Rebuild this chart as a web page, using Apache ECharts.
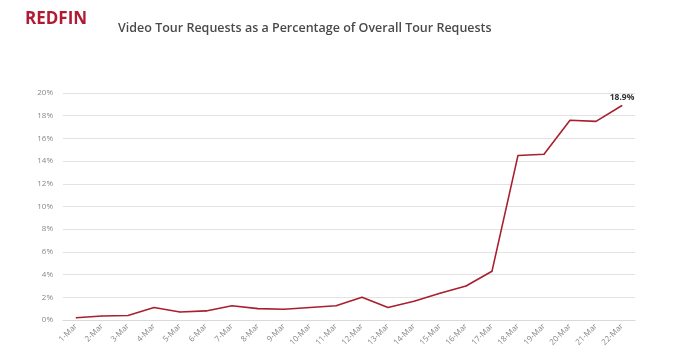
<!DOCTYPE html>
<html><head><meta charset="utf-8">
<script src="https://cdn.jsdelivr.net/npm/echarts@6/dist/echarts.min.js"></script>
<style>html,body{margin:0;padding:0;background:#fff}#c{width:679px;height:359px}</style>
</head><body><div id="c"></div>
<script>
var categories = ["1-Mar","2-Mar","3-Mar","4-Mar","5-Mar","6-Mar","7-Mar","8-Mar","9-Mar","10-Mar","11-Mar","12-Mar","13-Mar","14-Mar","15-Mar","16-Mar","17-Mar","18-Mar","19-Mar","20-Mar","21-Mar","22-Mar"];
var videoShare = [0.2,0.35,0.4,1.1,0.7,0.8,1.25,1.0,0.95,1.1,1.25,2.0,1.1,1.65,2.35,3.0,4.3,14.5,14.6,17.6,17.5,18.9];
var seriesData = videoShare.map(function(v,i){
  if(i===videoShare.length-1){
    return {value:v,label:{show:true,position:'top',distance:3,formatter:'{c}%',color:'#333',fontSize:8.5,fontWeight:'bold',fontFamily:'"Open Sans", sans-serif'}};
  }
  return v;
});
var chart = echarts.init(document.getElementById('c'));
chart.setOption({
  backgroundColor:'#fff',
  animation:false,
  graphic:[
    {type:'text',left:25,top:11,style:{text:'REDFIN',fill:'#b01a33',font:'bold 17px "Open Sans", sans-serif'}},
    {type:'text',left:118,top:22,style:{text:'Video Tour Requests as a Percentage of Overall Tour Requests',fill:'#4a4a4a',font:'600 12.5px "Open Sans", sans-serif'}}
  ],
  grid:{left:63,right:44,top:93,bottom:39,containLabel:false},
  xAxis:{type:'category',data:categories,boundaryGap:true,
    axisLine:{lineStyle:{color:'#d9d9d9'}},axisTick:{show:false},
    axisLabel:{rotate:45,color:'#888',fontSize:8,fontFamily:'"Open Sans", sans-serif',margin:5}},
  yAxis:{type:'value',min:0,max:20,interval:2,
    axisLine:{show:false},axisTick:{show:false},
    splitLine:{lineStyle:{color:'#e3e3e3'}},
    axisLabel:{formatter:'{value}%',color:'#888',fontSize:8,fontFamily:'"Open Sans", sans-serif',margin:10}},
  series:[{type:'line',data:seriesData,symbol:'circle',symbolSize:1,showSymbol:true,
    itemStyle:{color:'#a8202f'},
    lineStyle:{color:'#a8202f',width:1.6}
  }]
});
</script></body></html>
